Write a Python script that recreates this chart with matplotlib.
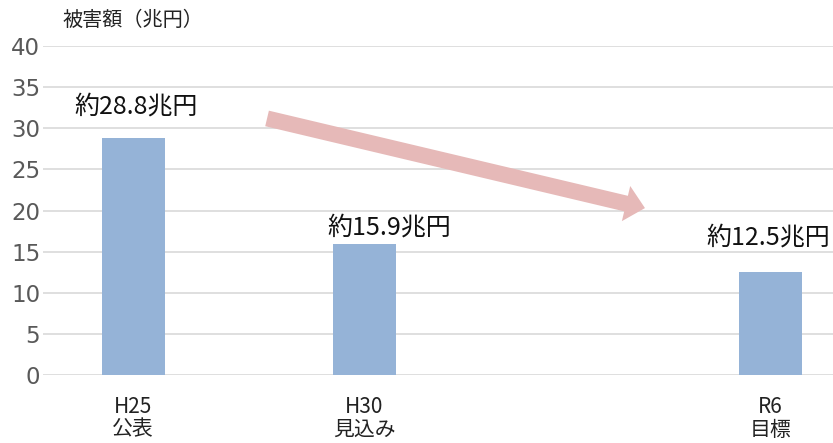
import matplotlib
matplotlib.use("Agg")
import matplotlib.pyplot as plt

plt.rcParams['font.family'] = ['Noto Sans CJK JP', 'DejaVu Sans']

categories = ["H25\n公表", "H30\n見込み", "R6\n目標"]
values = [28.8, 15.9, 12.5]
value_labels = ["約28.8兆円", "約15.9兆円", "約12.5兆円"]
yticks = [0, 5, 10, 15, 20, 25, 30, 35, 40]
ylabel = "被害額（兆円）"

xpos = [0, 1, 2.76]
label_y = [32.6, 17.9, 16.7]
label_dx = [0.013, 0.11, -0.011]

fig = plt.figure(figsize=(8.33, 4.43), dpi=100)
ax = fig.add_axes([0.0516, 0.1535, 0.9484, 0.7425])

ax.bar(xpos, values, width=0.273, color="#95B3D7", zorder=2)
ax.set_xlim(-0.39, 3.03)
ax.set_ylim(0, 40)
ax.set_yticks(yticks)
ax.set_xticks(xpos)
ax.set_xticklabels(categories, fontsize=15, color="#222222", linespacing=1.05)
ax.tick_params(axis='x', length=0, pad=15)
ax.tick_params(axis='y', length=0, pad=2, labelsize=16.5, labelcolor="#595959")
for lab in ax.get_yticklabels():
    lab.set_family(['DejaVu Sans'])
ax.grid(axis='y', color="#D9D9D9", linewidth=1.2, zorder=0)
ax.set_axisbelow(True)
for s in ax.spines.values():
    s.set_visible(False)

for x, y, dx, t in zip(xpos, label_y, label_dx, value_labels):
    ax.text(x + dx, y, t, ha='center', va='center', fontsize=18, color="#111111")

fig.text(0.075, 0.953, ylabel, fontsize=14.5, ha='left', va='center', color="#222222")

ax.annotate("", xy=(2.216, 20.3), xytext=(0.58, 31.2),
            arrowprops=dict(arrowstyle="simple,head_length=14,head_width=26,tail_width=11.5",
                            mutation_scale=1, color="#E6B9B8", shrinkA=0, shrinkB=0, lw=0))

fig.savefig("out.png", dpi=100)
